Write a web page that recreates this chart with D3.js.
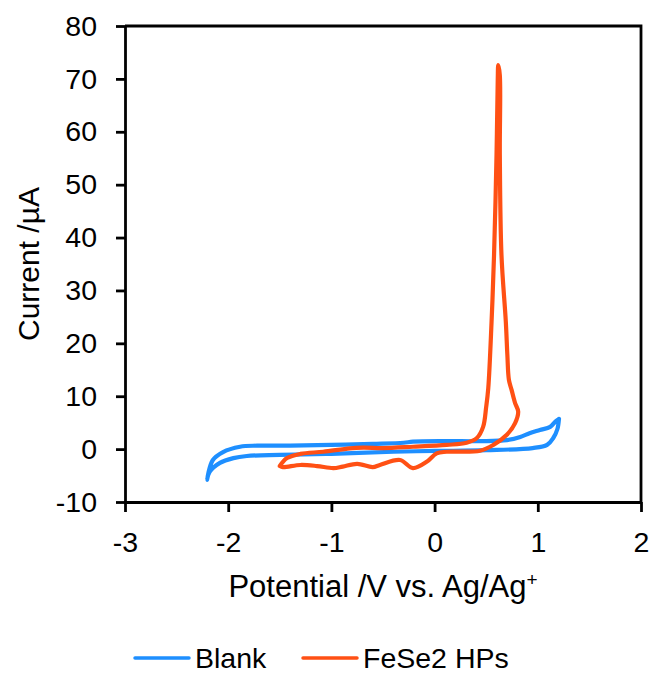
<!DOCTYPE html>
<html lang="en">
	<head>
		<meta charset="utf-8">
		<title>CV: Blank vs FeSe2 HPs</title>
		<script type="text/javascript" src="https://cdn.jsdelivr.net/npm/d3@7"></script>
		<style type="text/css">
			body { margin: 0; background: #fff; }
			text { font-family: "Liberation Sans", Arial, sans-serif; fill: #000; }
			.axis path, .axis line { stroke: #000; stroke-width: 2.8; }
			.axis text { font-size: 28.5px; }
			.curve { fill: none; stroke-width: 4.2; stroke-linejoin: round; stroke-linecap: round; }
		</style>
	</head>
	<body>
		<script type="text/javascript">

			//Tick values
			var xTicks = [-3, -2, -1, 0, 1, 2];
			var yTicks = [-10, 0, 10, 20, 30, 40, 50, 60, 70, 80];

			//Blank loop: potential (V) and current (uA)
			var blankV = [1.205, 1.17, 1.12, 1.02, 0.92, 0.83, 0.70, 0.44, 0.12, -0.21, -0.3, -0.6, -1.0, -1.4, -1.72, -1.885, -2.05, -2.15, -2.205,
						  -2.18, -2.08, -1.95, -1.82, -1.5, -1.0, -0.4, 0.0, 0.5, 0.95, 1.09, 1.15, 1.19, 1.205];
			var blankI = [5.7, 5.2, 4.2, 3.6, 3.0, 2.3, 1.7, 1.5, 1.5, 1.4, 1.2, 1.0, 0.8, 0.65, 0.65, 0.45, -0.55, -2.1, -5.8,
						  -4.3, -2.6, -1.7, -1.3, -1.1, -0.9, -0.5, -0.35, -0.2, 0.2, 0.8, 2.1, 3.8, 5.7];

			//FeSe2 HPs loop
			var feV = [-1.5, -1.43, -1.30, -1.08, -0.82, -0.69, -0.5, -0.21, 0.117, 0.31, 0.41, 0.47, 0.50, 0.52, 0.552, 0.576, 0.60, 0.612, 0.617,
					   0.632, 0.632, 0.648, 0.69, 0.705, 0.72, 0.746, 0.78, 0.81, 0.78, 0.70, 0.57, 0.44, 0.117, 0.02, -0.077, -0.21, -0.335,
					   -0.53, -0.6, -0.75, -0.89, -0.98, -1.14, -1.30, -1.47, -1.5];
			var feI = [-3.2, -1.7, -0.9, -0.5, 0.15, 0.27, 0.2, 0.45, 0.8, 1.2, 2.1, 4.2, 8.0, 11.5, 24.1, 36.7, 55.6, 70, 72.6,
					   70.7, 55.6, 36.7, 24.1, 17.8, 13.1, 11.2, 8.7, 7.1, 4.9, 2.7, 0.8, -0.3, -0.5, -0.8, -2.4, -3.6, -2.06,
					   -3.0, -3.4, -2.8, -3.3, -3.6, -3.2, -3.0, -3.4, -3.2];

			var seriesNames = ["Blank", "FeSe2 HPs"];
			var colors = ["#1e8fff", "#ff5014"];

			var w = 650, h = 674;
			var pL = 125, pR = 641, pT = 26, pB = 502;

			var svg = d3.select("body")
						.append("svg")
						.attr("width", w)
						.attr("height", h);

			var xScale = d3.scaleLinear().domain([-3, 2]).range([pL, pR]);
			var yScale = d3.scaleLinear().domain([-10, 80]).range([pB, pT]);

			var line = d3.line()
						 .x(function(d) { return xScale(d[0]); })
						 .y(function(d) { return yScale(d[1]); })
						 .curve(d3.curveCatmullRom.alpha(0.5));

			var blank = d3.zip(blankV, blankI);
			var fese = d3.zip(feV, feI);

			svg.append("path")
			   .datum(blank)
			   .attr("class", "curve")
			   .attr("stroke", colors[0])
			   .attr("d", line);

			svg.append("path")
			   .datum(fese)
			   .attr("class", "curve")
			   .attr("stroke", colors[1])
			   .attr("d", line);

			//Frame (top + right)
			svg.append("path")
			   .attr("d", "M" + pL + "," + pT + "H" + pR + "V" + pB)
			   .attr("fill", "none")
			   .attr("stroke", "#000")
			   .attr("stroke-width", 2.8);

			//Axes
			var fmt = function(d) { return String(d); };
			var xAxis = d3.axisBottom(xScale).tickValues(xTicks).tickFormat(fmt).tickSize(10).tickSizeOuter(0).tickPadding(20);
			var yAxis = d3.axisLeft(yScale).tickValues(yTicks).tickFormat(fmt).tickSize(9).tickSizeOuter(0).tickPadding(19);

			svg.append("g")
				.attr("class", "axis")
				.attr("transform", "translate(0," + pB + ")")
				.call(xAxis);

			svg.append("g")
				.attr("class", "axis")
				.attr("transform", "translate(" + pL + ",0)")
				.call(yAxis);

			//Axis titles
			var xt = svg.append("text")
				.attr("x", (pL + pR) / 2)
				.attr("y", 597)
				.attr("text-anchor", "middle")
				.attr("font-size", 31);
			xt.append("tspan").text("Potential /V vs. Ag/Ag");
			xt.append("tspan").attr("dy", -11).attr("font-size", 19).text("+");

			svg.append("text")
				.attr("transform", "translate(39," + (pT + pB) / 2 + ") rotate(-90)")
				.attr("text-anchor", "middle")
				.attr("font-size", 30)
				.text("Current /\u00b5A");

			//Legend
			var legendX = [135, 303];
			var leg = svg.selectAll(".legend")
				.data(seriesNames)
				.enter()
				.append("g")
				.attr("class", "legend")
				.attr("transform", function(d, i) { return "translate(" + legendX[i] + ",658)"; });

			leg.append("line")
				.attr("x1", 0).attr("x2", 54)
				.attr("stroke", function(d, i) { return colors[i]; })
				.attr("stroke-width", 3.5)
				.attr("stroke-linecap", "round");

			leg.append("text")
				.attr("x", 60)
				.attr("y", 10)
				.attr("font-size", 28.5)
				.text(function(d) { return d; });

		</script>
	</body>
</html>
